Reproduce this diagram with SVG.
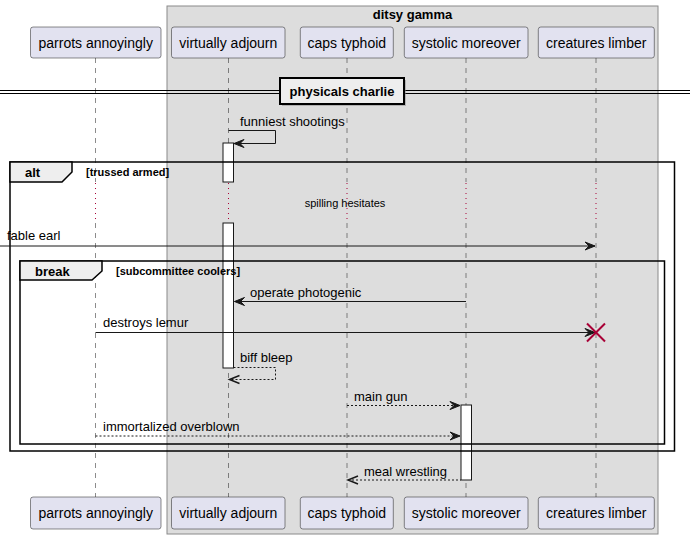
<svg xmlns="http://www.w3.org/2000/svg" width="690" height="539" viewBox="0 0 690 539">
<style>
text{font-family:"Liberation Sans",Arial,sans-serif;fill:#000}
.pbox{fill:#E2E2F0;stroke:#181818;stroke-width:0.5}
.pt{font-size:14px;text-anchor:middle}
.life{stroke:#181818;stroke-width:0.5;stroke-dasharray:5,5;fill:none}
.delay{stroke:#A80036;stroke-width:1;stroke-dasharray:1,4;fill:none}
.msg{stroke:#181818;stroke-width:1;fill:none}
.dash{stroke:#181818;stroke-width:1;stroke-dasharray:2,2;fill:none}
.head{fill:#181818;stroke:#181818;stroke-width:1}
.mt{font-size:13px}
.act{fill:#FFFFFF;stroke:#181818;stroke-width:1}
.frame{fill:none;stroke:#000;stroke-width:1.5}
.tab{fill:#EEEEEE;stroke:#000;stroke-width:1.5}
.ft{font-size:13px;font-weight:bold}
.fl{font-size:11px;font-weight:bold}
</style>
<g id="group-ditsy-gamma">
<rect x="167" y="6" width="491" height="528" fill="#DDDDDD" stroke="#8A8A8A" stroke-width="1"/>
<text x="412.5" y="19" font-size="13" font-weight="bold" text-anchor="middle">ditsy gamma</text>
</g>
<g id="lifelines">
<line class="life" x1="95.5" y1="58" x2="95.5" y2="182"/>
<line class="life" x1="95.5" y1="223" x2="95.5" y2="497"/>
<line class="life" x1="228.5" y1="58" x2="228.5" y2="182"/>
<line class="life" x1="228.5" y1="223" x2="228.5" y2="497"/>
<line class="life" x1="347" y1="58" x2="347" y2="182"/>
<line class="life" x1="347" y1="223" x2="347" y2="497"/>
<line class="life" x1="466" y1="58" x2="466" y2="182"/>
<line class="life" x1="466" y1="223" x2="466" y2="497"/>
<line class="life" x1="596" y1="58" x2="596" y2="182"/>
<line class="life" x1="596" y1="223" x2="596" y2="497"/>
<line class="delay" x1="95.5" y1="183" x2="95.5" y2="223"/>
<line class="delay" x1="228.5" y1="183" x2="228.5" y2="223"/>
<line class="delay" x1="347" y1="183" x2="347" y2="223"/>
<line class="delay" x1="466" y1="183" x2="466" y2="223"/>
<line class="delay" x1="596" y1="183" x2="596" y2="223"/>
</g>
<g id="p-parrots-annoyingly">
<rect class="pbox" x="30.5" y="27" width="130.5" height="31" rx="2.5"/>
<text class="pt" x="95.7" y="47.5">parrots annoyingly</text>
<rect class="pbox" x="30.5" y="497" width="130.5" height="32" rx="2.5"/>
<text class="pt" x="95.7" y="518">parrots annoyingly</text>
</g>
<g id="p-virtually-adjourn">
<rect class="pbox" x="171.5" y="27" width="113.5" height="31" rx="2.5"/>
<text class="pt" x="228.3" y="47.5">virtually adjourn</text>
<rect class="pbox" x="171.5" y="497" width="113.5" height="32" rx="2.5"/>
<text class="pt" x="228.3" y="518">virtually adjourn</text>
</g>
<g id="p-caps-typhoid">
<rect class="pbox" x="300.3" y="27" width="93" height="31" rx="2.5"/>
<text class="pt" x="346.8" y="47.5">caps typhoid</text>
<rect class="pbox" x="300.3" y="497" width="93" height="32" rx="2.5"/>
<text class="pt" x="346.8" y="518">caps typhoid</text>
</g>
<g id="p-systolic-moreover">
<rect class="pbox" x="404.3" y="27" width="123.7" height="31" rx="2.5"/>
<text class="pt" x="466.2" y="47.5">systolic moreover</text>
<rect class="pbox" x="404.3" y="497" width="123.7" height="32" rx="2.5"/>
<text class="pt" x="466.2" y="518">systolic moreover</text>
</g>
<g id="p-creatures-limber">
<rect class="pbox" x="538.3" y="27" width="116" height="31" rx="2.5"/>
<text class="pt" x="596.3" y="47.5">creatures limber</text>
<rect class="pbox" x="538.3" y="497" width="116" height="32" rx="2.5"/>
<text class="pt" x="596.3" y="518">creatures limber</text>
</g>
<g id="divider-physicals-charlie">
<line x1="0" y1="90.5" x2="690" y2="90.5" stroke="#000" stroke-width="1"/>
<line x1="0" y1="93.5" x2="690" y2="93.5" stroke="#000" stroke-width="1"/>
<rect x="282" y="80" width="124" height="26" fill="#888" opacity="0.5"/>
<rect x="280" y="78" width="124" height="26" fill="#EEEEEE" stroke="#000" stroke-width="2"/>
<text x="342" y="96" font-size="13" font-weight="bold" text-anchor="middle">physicals charlie</text>
</g>
<g id="activations">
<rect class="act" x="223" y="143" width="10.5" height="39"/>
<rect class="act" x="223" y="223" width="10.5" height="145"/>
<rect class="act" x="461" y="405" width="10.5" height="75"/>
</g>
<g id="frame-alt">
<rect class="frame" x="10" y="162" width="664.5" height="289"/>
<polygon class="tab" points="10,162 72,162 72,172 62,182 10,182"/>
<text class="ft" x="25" y="177">alt</text>
<text class="fl" x="86" y="176">[trussed armed]</text>
</g>
<g id="frame-break">
<rect class="frame" x="20" y="261" width="644.5" height="183"/>
<polygon class="tab" points="20,261 102,261 102,271 92,280 20,280"/>
<text class="ft" x="35" y="276">break</text>
<text class="fl" x="116" y="275">[subcommittee coolers]</text>
</g>
<g id="connectors">
<polyline class="msg" points="228.5,130.5 275.5,130.5 275.5,143.5 234,143.5"/>
<polygon class="head" points="244,139.5 234,143.5 244,147.5 240,143.5"/>
<text class="mt" x="240" y="126">funniest shootings</text>
<text x="345" y="207" font-size="11" text-anchor="middle">spilling hesitates</text>
<line class="msg" x1="0" y1="246" x2="595" y2="246"/>
<polygon class="head" points="585,242 595,246 585,250 589,246"/>
<text class="mt" x="7" y="240">fable earl</text>
<line class="msg" x1="234.5" y1="301.5" x2="466" y2="301.5"/>
<polygon class="head" points="244.5,297.5 234.5,301.5 244.5,305.5 240.5,301.5"/>
<text class="mt" x="250" y="297">operate photogenic</text>
<line class="msg" x1="95.5" y1="332.5" x2="595" y2="332.5"/>
<polygon class="head" points="585,328.5 595,332.5 585,336.5 589,332.5"/>
<text class="mt" x="103" y="327">destroys lemur</text>
<g stroke="#A80036" stroke-width="2"><line x1="587" y1="323.5" x2="605" y2="341.5"/><line x1="605" y1="323.5" x2="587" y2="341.5"/></g>
<polyline class="dash" points="233.5,367.5 275.5,367.5 275.5,379.5 229.5,379.5"/>
<polyline points="239.5,375.5 229.5,379.5 239.5,383.5" fill="none" stroke="#181818" stroke-width="1.5"/>
<text class="mt" x="240" y="362">biff bleep</text>
<line class="dash" x1="347" y1="405.5" x2="460" y2="405.5"/>
<polygon class="head" points="450,401.5 460,405.5 450,409.5 454,405.5"/>
<text class="mt" x="354" y="401">main gun</text>
<line class="dash" x1="95.5" y1="436" x2="460" y2="436"/>
<polygon class="head" points="450,432 460,436 450,440 454,436"/>
<text class="mt" x="103" y="431">immortalized overblown</text>
<line class="dash" x1="348" y1="480" x2="461" y2="480"/>
<polyline points="358,476 348,480 358,484" fill="none" stroke="#181818" stroke-width="1.5"/>
<text class="mt" x="364" y="476">meal wrestling</text>
</g>
</svg>
